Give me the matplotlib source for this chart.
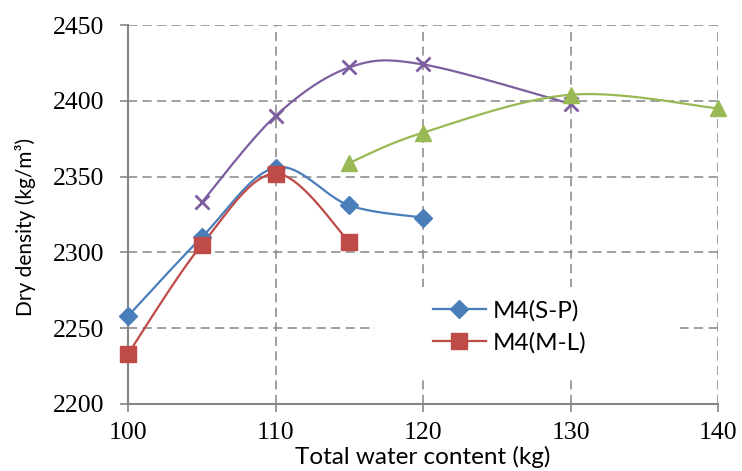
import matplotlib
matplotlib.use("Agg")
import matplotlib.pyplot as plt
from matplotlib.patches import Rectangle
import numpy as np

# --- data ---
water_sp = [100, 105, 110, 115, 120]
dens_sp = [2258, 2310, 2356, 2331, 2323]

water_ml = [100, 105, 110, 115]
dens_ml = [2233, 2305, 2352, 2307]

water_purple = [105, 110, 115, 120, 130]
dens_purple = [2333, 2390, 2422, 2424, 2398]

water_green = [115, 120, 130, 140]
dens_green = [2359, 2379, 2404, 2395]

x_ticks = [100, 110, 120, 130, 140]
y_ticks = [2200, 2250, 2300, 2350, 2400, 2450]

GRID = "#868686"


def smooth(x, y, n=40):
    # Excel-style smoothed line (Catmull-Rom through the points)
    p = np.column_stack([x, y]).astype(float)
    pts = np.vstack([p[0], p, p[-1]])
    out = []
    t = np.linspace(0, 1, n)[:, None]
    for i in range(1, len(pts) - 2):
        p0, p1, p2, p3 = pts[i - 1], pts[i], pts[i + 1], pts[i + 2]
        c1 = p1 + (p2 - p0) / 6
        c2 = p2 - (p3 - p1) / 6
        seg = ((1 - t) ** 3) * p1 + 3 * ((1 - t) ** 2) * t * c1 \
            + 3 * (1 - t) * t ** 2 * c2 + t ** 3 * p2
        out.append(seg)
    out = np.vstack(out)
    return out[:, 0], out[:, 1]


fig = plt.figure(figsize=(7.42, 4.71), dpi=100)
ax = fig.add_axes([0.1725, 0.1423, 0.7952, 0.8046])

series = [
    (water_sp, dens_sp, "#4A7EBB", "D", 9, "M4(S-P)"),
    (water_ml, dens_ml, "#BE4B48", "s", 11, "M4(M-L)"),
    (water_purple, dens_purple, "#7D5FA0", "x", 10, None),
    (water_green, dens_green, "#98B954", "^", 11, None),
]
handles = []
for x, y, c, m, ms, lab in series:
    sx, sy = smooth(x, y)
    ax.plot(sx, sy, color=c, lw=1.6, zorder=3)
    ax.plot(x, y, ls="none", marker=m, ms=ms, color=c, clip_on=False,
            mec=c, mew=2 if m == "x" else 1, zorder=4)
    if lab:
        h, = ax.plot([], [], color=c, lw=1.6, marker=m, ms=ms, mec=c, label=lab)
        handles.append(h)

ax.set_xlim(100, 140)
ax.set_ylim(2200, 2450)
ax.set_xticks(x_ticks)
ax.set_yticks(y_ticks)
ax.grid(True, color=GRID, lw=1.1, ls=(0, (6, 3.5)), zorder=1)

for s in ["top", "right"]:
    ax.spines[s].set_visible(False)
for s in ["left", "bottom"]:
    ax.spines[s].set_color(GRID)
    ax.spines[s].set_linewidth(1.5)
    ax.spines[s].set_zorder(2)

ax.tick_params(direction="out", length=6, width=1.2, color=GRID,
               labelsize=18.5)
ax.tick_params(axis="y", pad=11)
ax.tick_params(axis="x", pad=7)
for lbl in ax.get_xticklabels() + ax.get_yticklabels():
    lbl.set_family("Liberation Serif")

ax.set_xlabel("Total water content (kg)", family="Lato", fontsize=17.5)
ax.set_ylabel("Dry density (kg/m³)", family="Lato", fontsize=15)
ax.xaxis.set_label_coords(0.5, -0.11)
ax.yaxis.label.set_va("center")
ax.yaxis.set_label_coords(-0.173, 0.467)

# white box that hides the grid behind the legend
ax.add_patch(Rectangle((0.419, 0.071), 0.517, 0.237, transform=ax.transAxes,
                       facecolor="white", edgecolor="none", zorder=2))
leg = ax.legend(handles=handles, loc="upper left", bbox_to_anchor=(0.5, 0.3),
                frameon=False, prop={"family": "Lato", "size": 17.5},
                handlelength=2.2, handletextpad=0.25, labelspacing=0.45,
                borderaxespad=0)
leg.set_zorder(5)

fig.savefig("out.png", dpi=100)
